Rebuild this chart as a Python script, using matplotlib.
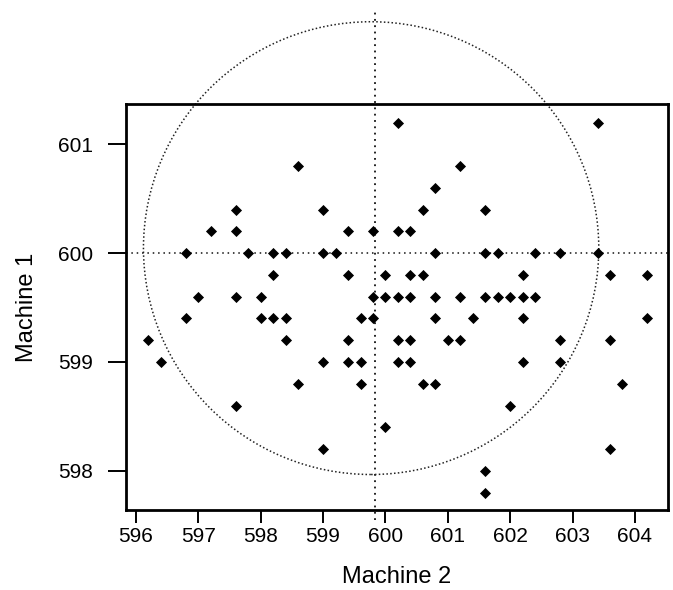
import matplotlib
matplotlib.use("Agg")
import matplotlib.pyplot as plt
from matplotlib.patches import Ellipse

plt.rcParams['font.family'] = ['Liberation Sans', 'DejaVu Sans']

# ---- data (Machine 2 on x, Machine 1 on y) ----
rows = {
    601.2: [600.2, 603.4],
    600.8: [598.6, 601.2],
    600.6: [600.8],
    600.4: [597.6, 599.0, 600.6, 601.6],
    600.2: [597.2, 597.6, 599.4, 599.8, 600.2, 600.4],
    600.0: [596.8, 597.8, 598.2, 598.4, 599.0, 599.2, 600.8, 601.6, 601.8, 602.4, 602.8, 603.4],
    599.8: [598.2, 599.4, 600.0, 600.4, 600.6, 602.2, 603.6, 604.2],
    599.6: [597.0, 597.6, 598.0, 599.8, 600.0, 600.2, 600.4, 600.8, 601.2, 601.6, 601.8, 602.0, 602.2, 602.4],
    599.4: [596.8, 598.0, 598.2, 598.4, 599.6, 599.8, 600.8, 601.4, 602.2, 604.2],
    599.2: [596.2, 598.4, 599.4, 600.2, 600.4, 601.0, 601.2, 602.8, 603.6],
    599.0: [596.4, 599.0, 599.4, 599.6, 600.2, 600.4, 602.2, 602.8],
    598.8: [598.6, 599.6, 600.6, 600.8, 603.8],
    598.6: [597.6, 602.0],
    598.4: [600.0],
    598.2: [599.0, 603.6],
    598.0: [601.6],
    597.8: [601.6],
}
machine2 = [x for y, xs in rows.items() for x in xs]
machine1 = [y for y, xs in rows.items() for x in xs]

x_ticks = [596, 597, 598, 599, 600, 601, 602, 603, 604]
y_ticks = [598, 599, 600, 601]

# reference lines / circle
h_line_y = 600.0
v_line_x = 599.83
v_line_span = (597.55, 602.23)
circle_center = (599.77, 600.046)
circle_w, circle_h = 7.30, 4.16

fig = plt.figure(figsize=(6.73, 5.90), dpi=100)
ax = fig.add_axes([0.1872, 0.1356, 0.8054, 0.6881])
ax.set_xlim(595.84, 604.53)
ax.set_ylim(597.64, 601.37)

ax.scatter(machine2, machine1, marker='D', s=32, color='black', zorder=3, linewidths=0)

ax.axhline(h_line_y, color='#111111', lw=1.1, ls=(0, (1, 2.5)), zorder=2)
ax.plot([v_line_x, v_line_x], list(v_line_span), color='#111111', lw=1.3,
        ls=(0, (1, 2.5)), clip_on=False, zorder=2)
ax.add_patch(Ellipse(circle_center, circle_w, circle_h, fill=False,
                     edgecolor='#222222', lw=1.1, ls=(0, (1, 1.5)),
                     clip_on=False, zorder=2))

for s in ax.spines.values():
    s.set_linewidth(2.0)

tick_font = ['Liberation Sans Narrow', 'Liberation Sans', 'DejaVu Sans']
ax.set_xticks(x_ticks)
ax.set_yticks(y_ticks)
ax.set_xticklabels([str(t) for t in x_ticks], family=tick_font, fontsize=15)
ax.set_yticklabels([str(t) for t in y_ticks], family=tick_font, fontsize=15)
ax.tick_params(axis='x', direction='out', length=9.5, width=1.4, pad=3)
ax.tick_params(axis='y', direction='out', length=13, width=1.4, pad=11)

ax.set_xlabel('Machine 2', fontsize=17, labelpad=14)
ax.set_ylabel('Machine 1', fontsize=17, labelpad=14)

fig.savefig('out.png', dpi=100)
